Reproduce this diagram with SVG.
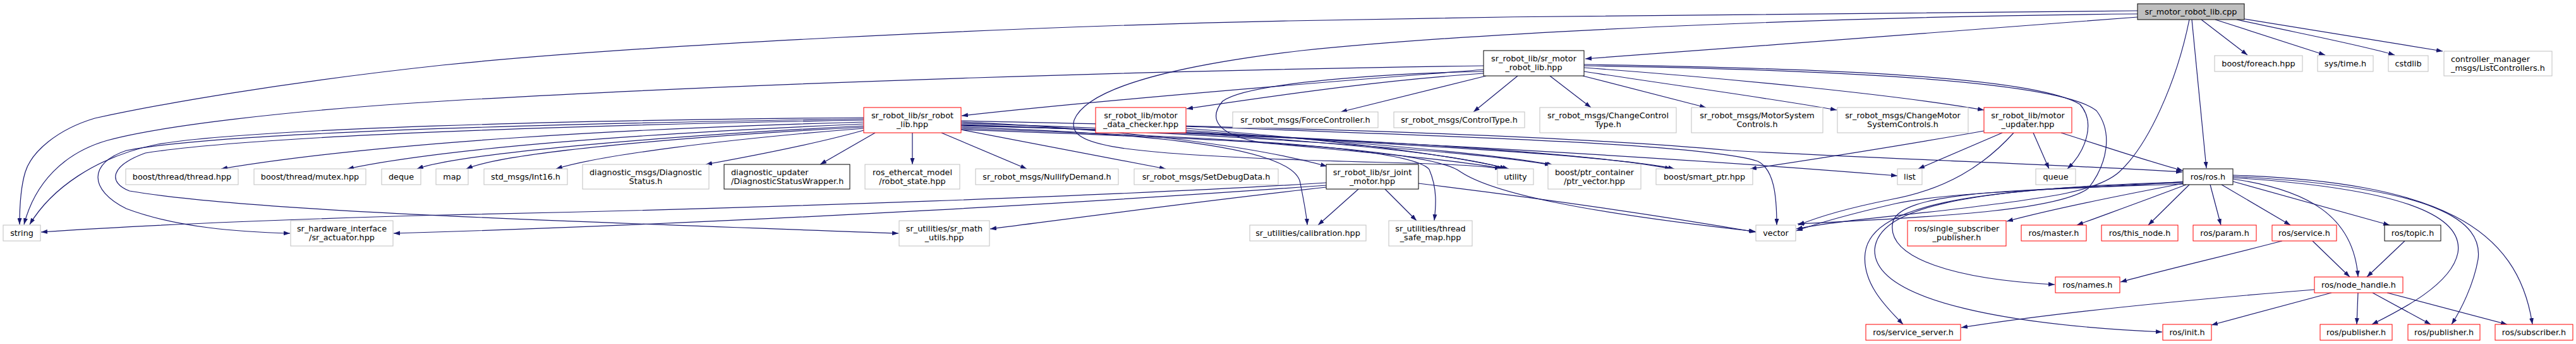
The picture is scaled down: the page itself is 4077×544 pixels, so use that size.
<svg xmlns="http://www.w3.org/2000/svg" width="4077" height="544" viewBox="0 0 4077 544">
<defs>
<marker id="a" viewBox="0 0 10 7" refX="10" refY="3.5" markerWidth="10" markerHeight="7" markerUnits="userSpaceOnUse" orient="auto"><path d="M0,0 L10,3.5 L0,7 z" fill="#191970"/></marker>
<style>
.e{fill:none;stroke:#191970;stroke-width:1.2;marker-end:url(#a)}
rect{fill:#fff;stroke:#bfbfbf;stroke-width:1}
.r rect{stroke:#ff0000}
.b rect{stroke:#000}
.root rect{fill:#bfbfbf;stroke:#000}
text{font-family:"DejaVu Sans","Liberation Sans",sans-serif;font-size:12.8px;fill:#000;text-anchor:middle}
.l text{text-anchor:start}
</style>
</defs>
<rect x="0" y="0" width="4077" height="544" style="fill:#fff;stroke:none"/>
<g id="edges">
<path class="e" d="M3383,27 C3100,48 2800,72 2509,93"/>
<path class="e" d="M3383,17 C3000,18 2500,24 2040,33 C1600,42 1000,72 700,103 C450,130 250,165 150,187 C90,205 50,240 40,272 C33,295 31,320 31,355"/>
<path class="e" d="M3484,31 L3557,87"/>
<path class="e" d="M3506,31 L3680,87"/>
<path class="e" d="M3540,31 C3650,55 3740,72 3790,87"/>
<path class="e" d="M3552,30 L3866,81"/>
<path class="e" d="M3469,31 L3492,266"/>
<path class="e" d="M3465,31 C3445,130 3400,230 3354,272 C3320,302 3250,312 3100,330 C3000,342 2900,350 2843,362"/>
<path class="e" d="M3383,22 C3000,25 2400,45 2060,80 C1850,105 1720,140 1700,190 C1690,228 1750,242 2060,253 C2200,258 2320,258 2376,267"/>
<path class="e" d="M2348,110 C2200,122 1800,152 1522,183"/>
<path class="e" d="M2348,116 C2200,126 2060,145 1878,172"/>
<path class="e" d="M2348,104 C1900,110 1200,130 700,160 C450,175 250,200 170,222 C100,242 55,290 38,355"/>
<path class="e" d="M2352,120 L2122,177"/>
<path class="e" d="M2402,120 L2332,177"/>
<path class="e" d="M2453,120 L2518,170"/>
<path class="e" d="M2505,120 L2700,170"/>
<path class="e" d="M2507,113 C2650,135 2800,155 2907,174"/>
<path class="e" d="M2507,107 C2750,125 3000,150 3140,174"/>
<path class="e" d="M2507,102 C2900,108 3220,122 3292,165 C3318,195 3300,240 3272,267"/>
<path class="e" d="M2507,104 C2900,110 3260,128 3318,175 C3345,210 3335,260 3305,298 C3260,330 3100,342 2845,354"/>
<path class="e" d="M2348,113 C2200,116 1975,130 1935,160 C1910,190 1930,215 2000,226 C2150,240 2300,252 2380,267"/>
<path class="e" d="M1367,186 C900,190 400,203 250,228 C150,248 80,300 47,355"/>
<path class="e" d="M1367,188 C900,195 350,208 200,238 C140,258 140,300 200,330 C280,360 380,367 459,369"/>
<path class="e" d="M1367,190 C900,198 400,215 230,242 C175,262 170,288 205,302 C400,335 900,350 1422,369"/>
<path class="e" d="M1367,193 C1000,203 600,225 350,267"/>
<path class="e" d="M1367,196 C1000,212 700,235 550,267"/>
<path class="e" d="M1367,199 C1000,218 720,245 660,267"/>
<path class="e" d="M1367,201 C1100,215 800,240 738,267"/>
<path class="e" d="M1367,203 C1150,220 950,245 880,267"/>
<path class="e" d="M1367,206 C1300,225 1200,245 1117,260"/>
<path class="e" d="M1385,210 L1298,260"/>
<path class="e" d="M1444,210 L1444,260"/>
<path class="e" d="M1490,210 L1625,267"/>
<path class="e" d="M1521,205 L1845,267"/>
<path class="e" d="M1521,193 C1800,205 2000,235 2100,263"/>
<path class="e" d="M1521,195 C1900,205 2280,235 2384,267"/>
<path class="e" d="M1521,197 C1900,210 2330,238 2455,261"/>
<path class="e" d="M1521,199 C2000,210 2500,238 2645,267"/>
<path class="e" d="M1521,191 C1900,200 2400,208 2740,238 C3000,252 3300,262 3454,272"/>
<path class="e" d="M1521,201 C1800,210 2050,230 2058,290 C2064,320 2068,340 2069,356"/>
<path class="e" d="M1521,203 C1850,215 2230,228 2262,268 C2276,300 2272,330 2270,349"/>
<path class="e" d="M1521,205 C1900,218 2260,232 2312,272 C2362,305 2500,335 2778,366"/>
<path class="e" d="M1521,198 C2000,212 2600,245 3003,278"/>
<path class="e" d="M1877,203 C2100,220 2300,245 2388,267"/>
<path class="e" d="M1877,206 C2150,225 2380,245 2458,261"/>
<path class="e" d="M1877,208 C2200,228 2550,245 2650,267"/>
<path class="e" d="M1877,200 C2300,215 2700,228 2782,255 C2808,268 2812,310 2812,356"/>
<path class="e" d="M3140,207 C3000,232 2850,255 2770,267"/>
<path class="e" d="M3169,210 L3036,267"/>
<path class="e" d="M3187,210 C3140,262 3080,300 2990,316 C2920,330 2880,342 2846,356"/>
<path class="e" d="M3218,210 L3243,267"/>
<path class="e" d="M3262,210 C3350,238 3400,255 3455,270"/>
<path class="e" d="M2150,299 L2086,356"/>
<path class="e" d="M2192,299 L2242,349"/>
<path class="e" d="M2245,290 C2450,315 2650,345 2779,367"/>
<path class="e" d="M2099,289 C1800,308 1200,330 700,340 C400,348 200,358 65,367"/>
<path class="e" d="M2099,293 C1800,315 1200,352 623,369"/>
<path class="e" d="M2099,296 C1900,318 1700,345 1567,362"/>
<path class="e" d="M3455,287 C3350,298 3100,300 3000,322 C2930,338 2880,352 2843,365"/>
<path class="e" d="M3456,290 C3350,310 3250,330 3176,350"/>
<path class="e" d="M3460,292 C3400,315 3330,340 3287,356"/>
<path class="e" d="M3465,292 L3400,356"/>
<path class="e" d="M3498,292 L3515,356"/>
<path class="e" d="M3516,292 L3625,356"/>
<path class="e" d="M3534,287 L3782,356"/>
<path class="e" d="M3534,283 C3650,300 3725,340 3732,438"/>
<path class="e" d="M3534,281 C3800,298 3900,340 3890,400 C3880,450 3800,490 3754,513"/>
<path class="e" d="M3534,279 C3860,296 3930,350 3922,410 C3915,450 3895,490 3880,513"/>
<path class="e" d="M3534,277 C3860,288 3985,360 4008,513"/>
<path class="e" d="M3455,291 C3200,300 3012,302 2996,350 C2982,410 3100,442 3252,450"/>
<path class="e" d="M3455,289 C3150,298 2962,318 2952,400 C2946,450 2990,490 3012,513"/>
<path class="e" d="M3455,288 C3100,298 2972,330 2967,395 C2965,480 3200,515 3422,525"/>
<path class="e" d="M3660,381 L3719,438"/>
<path class="e" d="M3612,381 C3520,405 3420,428 3356,446"/>
<path class="e" d="M3806,381 L3746,438"/>
<path class="e" d="M3732,463 L3730,513"/>
<path class="e" d="M3755,463 L3847,513"/>
<path class="e" d="M3778,463 L3968,513"/>
<path class="e" d="M3690,463 L3500,514"/>
<path class="e" d="M3663,458 C3450,475 3250,495 3104,518"/>
</g>
<g id="n_root" class="root"><rect x="3383" y="6" width="169" height="25"/><text x="3467.5" y="23">sr_motor_robot_lib.cpp</text></g>
<g id="n_motorlib" class="b"><rect x="2348" y="80" width="159" height="40"/><text x="2427.5" y="96.5">sr_robot_lib/sr_motor</text><text x="2427.5" y="110.5">_robot_lib.hpp</text></g>
<g id="n_foreach"><rect x="3505" y="88" width="139" height="25"/><text x="3574.5" y="105">boost/foreach.hpp</text></g>
<g id="n_time"><rect x="3668" y="88" width="88" height="25"/><text x="3712" y="105">sys/time.h</text></g>
<g id="n_cstdlib"><rect x="3780" y="88" width="63" height="25"/><text x="3811.5" y="105">cstdlib</text></g>
<g id="n_ctrlmgr" class="l"><rect x="3868" y="81" width="171" height="39"/><text x="3879" y="97.5">controller_manager</text><text x="3879" y="111.5">_msgs/ListControllers.h</text></g>
<g id="n_srrobotlib" class="r"><rect x="1367" y="170" width="154" height="40"/><text x="1444" y="186.5">sr_robot_lib/sr_robot</text><text x="1444" y="200.5">_lib.hpp</text></g>
<g id="n_mdc" class="r"><rect x="1734" y="170" width="143" height="40"/><text x="1805.5" y="186.5">sr_robot_lib/motor</text><text x="1805.5" y="200.5">_data_checker.hpp</text></g>
<g id="n_force"><rect x="1951" y="177" width="230" height="25"/><text x="2066" y="194">sr_robot_msgs/ForceController.h</text></g>
<g id="n_ctrltype"><rect x="2206" y="177" width="207" height="25"/><text x="2309.5" y="194">sr_robot_msgs/ControlType.h</text></g>
<g id="n_chgctrl"><rect x="2437" y="170" width="216" height="40"/><text x="2545" y="186.5">sr_robot_msgs/ChangeControl</text><text x="2545" y="200.5">Type.h</text></g>
<g id="n_motorsys"><rect x="2677" y="170" width="208" height="40"/><text x="2781" y="186.5">sr_robot_msgs/MotorSystem</text><text x="2781" y="200.5">Controls.h</text></g>
<g id="n_chgmotor"><rect x="2908" y="170" width="207" height="40"/><text x="3011.5" y="186.5">sr_robot_msgs/ChangeMotor</text><text x="3011.5" y="200.5">SystemControls.h</text></g>
<g id="n_updater" class="r"><rect x="3140" y="170" width="139" height="40"/><text x="3209.5" y="186.5">sr_robot_lib/motor</text><text x="3209.5" y="200.5">_updater.hpp</text></g>
<g id="n_thread"><rect x="199" y="267" width="178" height="25"/><text x="288" y="284">boost/thread/thread.hpp</text></g>
<g id="n_mutex"><rect x="402" y="267" width="177" height="25"/><text x="490.5" y="284">boost/thread/mutex.hpp</text></g>
<g id="n_deque"><rect x="604" y="267" width="62" height="25"/><text x="635" y="284">deque</text></g>
<g id="n_map"><rect x="690" y="267" width="51" height="25"/><text x="715.5" y="284">map</text></g>
<g id="n_int16"><rect x="766" y="267" width="132" height="25"/><text x="832" y="284">std_msgs/Int16.h</text></g>
<g id="n_diagstat"><rect x="922" y="260" width="200" height="39"/><text x="1022" y="276.5">diagnostic_msgs/Diagnostic</text><text x="1022" y="290.5">Status.h</text></g>
<g id="n_diagwrap" class="b l"><rect x="1146" y="260" width="199" height="39"/><text x="1157" y="276.5">diagnostic_updater</text><text x="1157" y="290.5">/DiagnosticStatusWrapper.h</text></g>
<g id="n_robotstate"><rect x="1369" y="260" width="150" height="39"/><text x="1444" y="276.5">ros_ethercat_model</text><text x="1444" y="290.5">/robot_state.hpp</text></g>
<g id="n_nullify"><rect x="1544" y="267" width="226" height="25"/><text x="1657" y="284">sr_robot_msgs/NullifyDemand.h</text></g>
<g id="n_setdebug"><rect x="1795" y="267" width="228" height="25"/><text x="1909" y="284">sr_robot_msgs/SetDebugData.h</text></g>
<g id="n_jointmotor" class="b"><rect x="2099" y="260" width="146" height="39"/><text x="2172" y="276.5">sr_robot_lib/sr_joint</text><text x="2172" y="290.5">_motor.hpp</text></g>
<g id="n_utility"><rect x="2370" y="267" width="57" height="25"/><text x="2398.5" y="284">utility</text></g>
<g id="n_ptrvec"><rect x="2450" y="260" width="147" height="39"/><text x="2523.5" y="276.5">boost/ptr_container</text><text x="2523.5" y="290.5">/ptr_vector.hpp</text></g>
<g id="n_smartptr"><rect x="2621" y="267" width="153" height="25"/><text x="2697.5" y="284">boost/smart_ptr.hpp</text></g>
<g id="n_list"><rect x="3003" y="267" width="39" height="25"/><text x="3022.5" y="284">list</text></g>
<g id="n_queue"><rect x="3222" y="267" width="63" height="25"/><text x="3253.5" y="284">queue</text></g>
<g id="n_ros" class="b"><rect x="3455" y="267" width="79" height="25"/><text x="3494.5" y="284">ros/ros.h</text></g>
<g id="n_string"><rect x="5" y="356" width="59" height="25"/><text x="34.5" y="373">string</text></g>
<g id="n_actuator"><rect x="460" y="349" width="162" height="40"/><text x="541" y="365.5">sr_hardware_interface</text><text x="541" y="379.5">/sr_actuator.hpp</text></g>
<g id="n_mathutils"><rect x="1423" y="349" width="143" height="40"/><text x="1494.5" y="365.5">sr_utilities/sr_math</text><text x="1494.5" y="379.5">_utils.hpp</text></g>
<g id="n_calib"><rect x="1978" y="356" width="184" height="25"/><text x="2070" y="373">sr_utilities/calibration.hpp</text></g>
<g id="n_tsmap"><rect x="2198" y="349" width="132" height="40"/><text x="2264" y="365.5">sr_utilities/thread</text><text x="2264" y="379.5">_safe_map.hpp</text></g>
<g id="n_vector"><rect x="2779" y="356" width="63" height="25"/><text x="2810.5" y="373">vector</text></g>
<g id="n_ssp" class="r"><rect x="3019" y="349" width="156" height="40"/><text x="3097" y="365.5">ros/single_subscriber</text><text x="3097" y="379.5">_publisher.h</text></g>
<g id="n_master" class="r"><rect x="3199" y="356" width="103" height="25"/><text x="3250.5" y="373">ros/master.h</text></g>
<g id="n_thisnode" class="r"><rect x="3326" y="356" width="121" height="25"/><text x="3386.5" y="373">ros/this_node.h</text></g>
<g id="n_param" class="r"><rect x="3471" y="356" width="100" height="25"/><text x="3521" y="373">ros/param.h</text></g>
<g id="n_service" class="r"><rect x="3596" y="356" width="102" height="25"/><text x="3647" y="373">ros/service.h</text></g>
<g id="n_topic" class="b"><rect x="3774" y="356" width="89" height="25"/><text x="3818.5" y="373">ros/topic.h</text></g>
<g id="n_names" class="r"><rect x="3253" y="438" width="102" height="25"/><text x="3304" y="455">ros/names.h</text></g>
<g id="n_nodehandle" class="r"><rect x="3663" y="438" width="140" height="25"/><text x="3733" y="455">ros/node_handle.h</text></g>
<g id="n_srvserver" class="r"><rect x="2953" y="513" width="150" height="25"/><text x="3028" y="530">ros/service_server.h</text></g>
<g id="n_init" class="r"><rect x="3423" y="513" width="77" height="25"/><text x="3461.5" y="530">ros/init.h</text></g>
<g id="n_pub1" class="r"><rect x="3672" y="513" width="114" height="25"/><text x="3729" y="530">ros/publisher.h</text></g>
<g id="n_pub2" class="r"><rect x="3811" y="513" width="114" height="25"/><text x="3868" y="530">ros/publisher.h</text></g>
<g id="n_sub" class="r"><rect x="3949" y="513" width="123" height="25"/><text x="4010.5" y="530">ros/subscriber.h</text></g>
</svg>
